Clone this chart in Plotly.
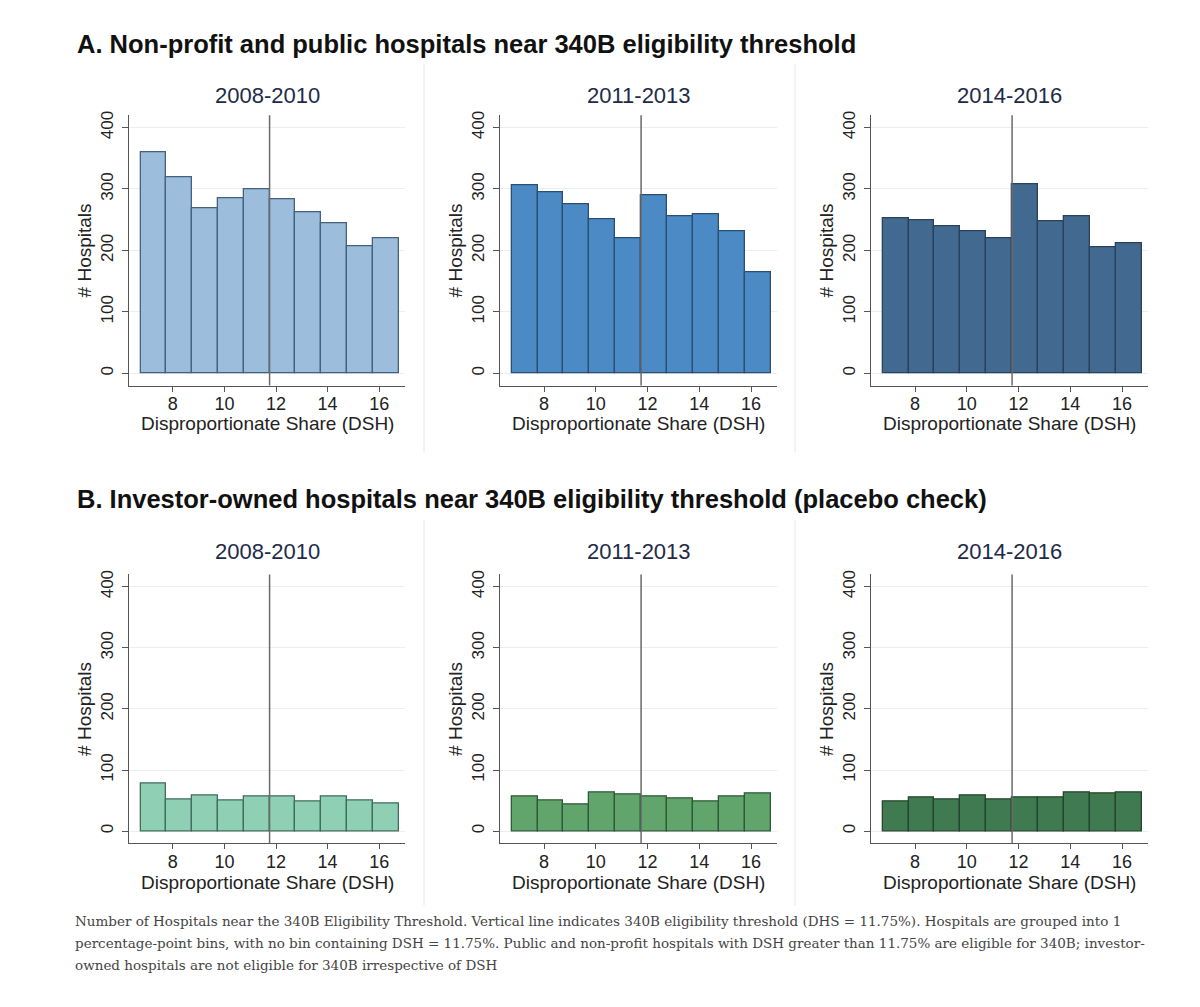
import plotly.graph_objects as go

# ---------------- data ----------------
bin_centers = [7.25, 8.25, 9.25, 10.25, 11.25, 12.25, 13.25, 14.25, 15.25, 16.25]
periods = ["2008-2010", "2011-2013", "2014-2016"]

nonprofit_2008_2010 = [360, 319, 269, 285, 300, 283, 262, 244, 206, 220]
nonprofit_2011_2013 = [306, 294, 275, 251, 219, 289, 256, 259, 231, 165]
nonprofit_2014_2016 = [253, 249, 239, 231, 219, 308, 247, 256, 205, 212]

investor_2008_2010 = [78, 52, 58, 50, 57, 56, 49, 56, 51, 46]
investor_2011_2013 = [57, 50, 43, 64, 60, 56, 54, 49, 57, 62]
investor_2014_2016 = [48, 55, 52, 58, 52, 55, 55, 64, 61, 63]

threshold = 11.75
x_ticks = [8, 10, 12, 14, 16]
y_ticks = [0, 100, 200, 300, 400]
x_title = "Disproportionate Share (DSH)"
y_title = "# Hospitals"

title_a = "A. Non-profit and public hospitals near 340B eligibility threshold"
title_b = "B. Investor-owned hospitals near 340B eligibility threshold (placebo check)"
caption_lines = [
    "Number of Hospitals near the 340B Eligibility Threshold. Vertical line indicates 340B eligibility threshold (DHS = 11.75%). Hospitals are grouped into 1",
    "percentage-point bins, with no bin containing DSH = 11.75%. Public and non-profit hospitals with DSH greater than 11.75% are eligible for 340B; investor-",
    "owned hospitals are not eligible for 340B irrespective of DSH",
]

# ---------------- styling ----------------
W, H = 1200, 1007
OFF = 8  # page body margin compensation
fills = [["#9cbddc", "#4b8ac4", "#42698f"], ["#8fcfb4", "#62a56c", "#3f7a50"]]
lines = [["#44617f", "#2b4f74", "#2a425c"], ["#3f6e5e", "#2e5a37", "#24452e"]]
series = [[nonprofit_2008_2010, nonprofit_2011_2013, nonprofit_2014_2016],
          [investor_2008_2010, investor_2011_2013, investor_2014_2016]]

x_dom_px = [(129, 405), (500, 777), (871, 1148)]
y_dom_px = [(111.7, 383), (572.7, 842.7)]
x_title_px = [421, 882]
sub_px = [92, 550]

def px_x(p):
    return (p - OFF) / W

def px_y(p):
    return 1 - (p - OFF) / H

fig = go.Figure()
layout = dict(
    width=W, height=H,
    margin=dict(l=0, r=0, t=0, b=0),
    paper_bgcolor="white", plot_bgcolor="white",
    showlegend=False,
    font=dict(family="Liberation Sans, Arial, sans-serif", color="#222222"),
    bargap=0,
)
annotations = []
shapes = []

k = 0
for r in range(2):
    for c in range(3):
        k += 1
        xa = "xaxis" if k == 1 else f"xaxis{k}"
        ya = "yaxis" if k == 1 else f"yaxis{k}"
        xr = "x" if k == 1 else f"x{k}"
        yr = "y" if k == 1 else f"y{k}"
        fig.add_trace(go.Bar(
            x=bin_centers, y=series[r][c], width=1.0,
            marker=dict(color=fills[r][c], line=dict(color=lines[r][c], width=1.3)),
            xaxis=xr, yaxis=yr, hoverinfo="x+y",
        ))
        layout[xa] = dict(
            domain=[px_x(x_dom_px[c][0]), px_x(x_dom_px[c][1])],
            anchor=yr, range=[6.3, 17.0],
            tickvals=x_ticks, ticks="outside", ticklen=5, tickcolor="#555555",
            ticklabelstandoff=-3,
            showline=True, linecolor="#555555", linewidth=1.2,
            showgrid=False, zeroline=False,
            tickfont=dict(size=18, color="#222222"),
        )
        layout[ya] = dict(
            domain=[px_y(y_dom_px[r][1]), px_y(y_dom_px[r][0])],
            anchor=xr, range=[-20, 420],
            tickvals=y_ticks, ticks="outside", ticklen=6, tickcolor="#555555",
            tickangle=-90, ticklabelstandoff=2,
            showline=True, linecolor="#555555", linewidth=1.2,
            showgrid=True, gridcolor="#e9eef1", gridwidth=1, zeroline=False,
            tickfont=dict(size=17, color="#222222"),
            title=dict(text=y_title, font=dict(size=19, color="#222222"), standoff=1),
        )
        shapes.append(dict(type="line", xref=xr, yref=f"{yr} domain",
                           x0=threshold, x1=threshold, y0=0, y1=1,
                           line=dict(color="#6a6a6a", width=1.5), layer="above"))
        annotations.append(dict(text=periods[c], xref=f"{xr} domain", yref="paper",
                                x=0.5, y=px_y(sub_px[r]),
                                xanchor="center", yanchor="middle", showarrow=False,
                                font=dict(size=22, color="#1e2b48")))
        annotations.append(dict(text=x_title, xref=f"{xr} domain", yref="paper",
                                x=0.5, y=px_y(x_title_px[r]),
                                xanchor="center", yanchor="middle", showarrow=False,
                                font=dict(size=19, color="#222222")))

# panel separators
for sx in (424, 795):
    shapes.append(dict(type="line", xref="paper", yref="paper",
                       x0=px_x(sx), x1=px_x(sx), y0=px_y(60), y1=px_y(450),
                       line=dict(color="#e6e6e6", width=1)))
    shapes.append(dict(type="line", xref="paper", yref="paper",
                       x0=px_x(sx), x1=px_x(sx), y0=px_y(518), y1=px_y(905),
                       line=dict(color="#e6e6e6", width=1)))

annotations.append(dict(text=f"<b>{title_a}</b>", xref="paper", yref="paper",
                        x=px_x(75), y=px_y(40), xanchor="left", yanchor="middle",
                        showarrow=False, font=dict(size=25.5, color="#111111")))
annotations.append(dict(text=f"<b>{title_b}</b>", xref="paper", yref="paper",
                        x=px_x(75), y=px_y(497), xanchor="left", yanchor="middle",
                        showarrow=False, font=dict(size=25.5, color="#111111")))

for i, line in enumerate(caption_lines):
    annotations.append(dict(text=line, xref="paper", yref="paper",
                            x=px_x(73), y=px_y(921 + 22 * i), xanchor="left", yanchor="middle",
                            showarrow=False,
                            font=dict(family="DejaVu Serif, Georgia, serif", size=13.5, color="#444444")))

layout["annotations"] = annotations
layout["shapes"] = shapes
fig.update_layout(**layout)
fig.write_html("out.html")
